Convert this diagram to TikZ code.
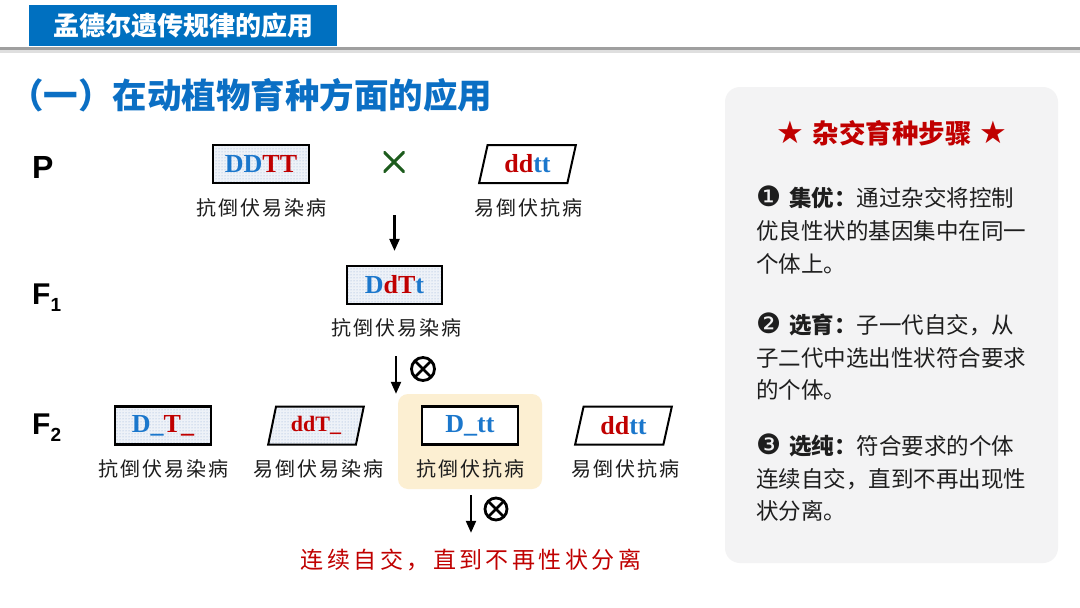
\documentclass[tikz,border=0pt]{standalone}
\usepackage{fontspec}
\setmainfont{Liberation Serif}
\newfontfamily\cjk{Noto Sans CJK SC}
\newfontfamily\cjkl[LetterSpace=10]{Noto Sans CJK SC}
\newfontfamily\cjkr[LetterSpace=15]{Noto Sans CJK SC}
\newfontfamily\dejavu{DejaVu Sans}
\newfontfamily\arialf{Liberation Sans}
\usetikzlibrary{shapes.geometric,patterns,arrows.meta}
\definecolor{titleblue}{HTML}{0070C0}
\definecolor{headblue}{HTML}{0B6FC4}
\definecolor{gblue}{HTML}{1B77CC}
\definecolor{gred}{HTML}{C00000}
\definecolor{xgreen}{HTML}{1D5C1D}
\definecolor{hlcol}{HTML}{FCEFD2}
\definecolor{panelcol}{HTML}{F3F3F4}
\definecolor{dotbg}{HTML}{EEF2F8}
\definecolor{dotfg}{HTML}{8EAAD4}
\definecolor{txtcol}{HTML}{1E1E1E}
\newcommand{\gB}[1]{\textcolor{gblue}{#1}}
\newcommand{\gR}[1]{\textcolor{gred}{#1}}
\newcommand{\bignum}[1]{{\dejavu\fontsize{28}{28}\selectfont #1}\hspace{8pt}}
\newcommand{\bigstar}{{\dejavu\fontsize{31}{31}\selectfont ★}}
\tikzset{
  genobox/.style={draw=black, line width=2.2pt, minimum width=96pt, minimum height=38pt, inner sep=0pt,
    font=\bfseries\fontsize{26}{26}\selectfont},
  genopara/.style={trapezium, trapezium left angle=75, trapezium right angle=105, trapezium stretches=true,
    draw=black, line width=2pt, minimum width=97pt, minimum height=38pt, inner sep=0pt,
    font=\bfseries\fontsize{26}{26}\selectfont},
  dotfill/.style={preaction={fill=dotbg}, pattern=dots, pattern color=dotfg},
  lab/.style={inner sep=0pt, font=\cjkl\fontsize{20}{20}\selectfont, text=txtcol},
  gen/.style={inner sep=0pt, anchor=base west, font=\arialf\bfseries\fontsize{32}{32}\selectfont},
  arr/.style={line width=2.2pt, -{Triangle[length=12pt,width=10pt]}},
  selfx/.style={circle, draw=black, line width=2.8pt, minimum size=23pt, inner sep=0pt,
    path picture={\draw[line width=2.8pt] (path picture bounding box.north west) -- (path picture bounding box.south east)
      (path picture bounding box.north east) -- (path picture bounding box.south west);}},
  crossx/.style={minimum size=21pt, inner sep=0pt,
    path picture={\draw[xgreen, line width=3pt] (path picture bounding box.north west) -- (path picture bounding box.south east)
      (path picture bounding box.north east) -- (path picture bounding box.south west);}},
  pl/.style={anchor=base west, inner sep=0pt, font=\cjk\fontsize{22.5}{22.5}\selectfont, text=txtcol}
}
\begin{document}
\begin{tikzpicture}[x=1pt,y=-1pt]
\useasboundingbox (0,0) rectangle (1080,608);
\fill[white] (0,0) rectangle (1080,608);
% header
\fill[gray!25] (0,50) rectangle (1080,53);
\fill[gray!75] (0,47) rectangle (1080,50);
\fill[titleblue] (29,5) rectangle (337,46);
\node[inner sep=0pt, text=white, font=\cjk\bfseries\fontsize{26}{26}\selectfont] (title) at (183,26) {孟德尔遗传规律的应用};
\node[inner sep=0pt, anchor=west, text=headblue, font=\cjk\bfseries\fontsize{34.5}{34.5}\selectfont] (head) at (9,95) {（一）在动植物育种方面的应用};
% generation labels
\node[gen] (P) at (32,178) {P};
\node[gen, font=\arialf\bfseries\fontsize{30}{30}\selectfont] (F1) at (32,304) {F\raisebox{-7pt}{\fontsize{19}{19}\selectfont 1}};
\node[gen, font=\arialf\bfseries\fontsize{30}{30}\selectfont] (F2) at (32,434) {F\raisebox{-7pt}{\fontsize{19}{19}\selectfont 2}};
% P row
\node[genobox, dotfill] (pDDTT) at (261,164) {\gB{DD}\gR{TT}};
\node[crossx] (cross) at (394,162) {};
\node[genopara, fill=white] (pddtt) at (527.5,164) {\gR{dd}\gB{tt}};
\node[lab] (lp1) at (261,208) {抗倒伏易染病};
\node[lab] (lp2) at (528,208) {易倒伏抗病};
% F1
\coordinate (a1s) at (394.5,215);
\node[genobox, dotfill, minimum width=95pt] (f1) at (394.5,285) {\gB{D}\gR{dT}\gB{t}};
\node[lab] (lf1) at (396,328) {抗倒伏易染病};
\draw[arr] (a1s) -- (f1) [shorten >=14pt];
\coordinate (a2s) at (396,356);
\node[selfx] (sx1) at (423,369) {};
% F2
\fill[hlcol, rounded corners=10pt] (398,394) rectangle (542,489);
\node[minimum width=144pt, minimum height=95pt, inner sep=0pt] (hl) at (470,441.5) {};
\draw[arr] (a2s) -- (a2s |- hl.north);
\node[genobox, dotfill] (dT) at (163,425.5) {\gB{D\_}\gR{T\_}};
\node[genopara, dotfill, minimum width=96pt, font=\bfseries\fontsize{22}{22}\selectfont] (ddT) at (316,425.5) {\gR{ddT\_}};
\node[genobox, fill=white] (dtt) at (470,425.5) {\gB{D\_tt}};
\node[genopara, fill=white] (ddtt2) at (623.5,425.5) {\gR{dd}\gB{tt}};
\node[lab] (l21) at (163,469) {抗倒伏易染病};
\node[lab] (l22) at (318,469) {易倒伏易染病};
\node[lab] (l23) at (470,469) {抗倒伏抗病};
\node[lab] (l24) at (625,469) {易倒伏抗病};
\node[selfx, minimum size=22pt] (sx2) at (496,509) {};
\node[inner sep=0pt, text=gred, font=\cjkr\fontsize{23}{23}\selectfont] (final) at (471,560) {连续自交，直到不再性状分离};
\draw[arr] (hl.south -| final) -- (final.north) [shorten <=6pt, shorten >=16pt];
% right panel
\fill[panelcol, rounded corners=15pt] (725,87) rectangle (1058,563);
\node[inner sep=0pt, text=gred, font=\cjk\bfseries\fontsize{26.5}{26.5}\selectfont] (ptitle) at (892,133)
  {\bigstar\hspace{8pt}杂交育种步骤\hspace{8pt}\bigstar};
\node[pl] (s1a) at (756,206.5) {\bignum{❶}{\bfseries 集优：}通过杂交将控制};
\node[pl] (s1b) at (756,239.5) {优良性状的基因集中在同一};
\node[pl] (s1c) at (756,272.5) {个体上。};
\node[pl] (s2a) at (756,333.5) {\bignum{❷}{\bfseries 选育：}子一代自交，从};
\node[pl] (s2b) at (756,366.5) {子二代中选出性状符合要求};
\node[pl] (s2c) at (756,398.5) {的个体。};
\node[pl] (s3a) at (756,454.5) {\bignum{❸}{\bfseries 选纯：}符合要求的个体};
\node[pl] (s3b) at (756,487.5) {连续自交，直到不再出现性};
\node[pl] (s3c) at (756,519.5) {状分离。};
\end{tikzpicture}
\end{document}
